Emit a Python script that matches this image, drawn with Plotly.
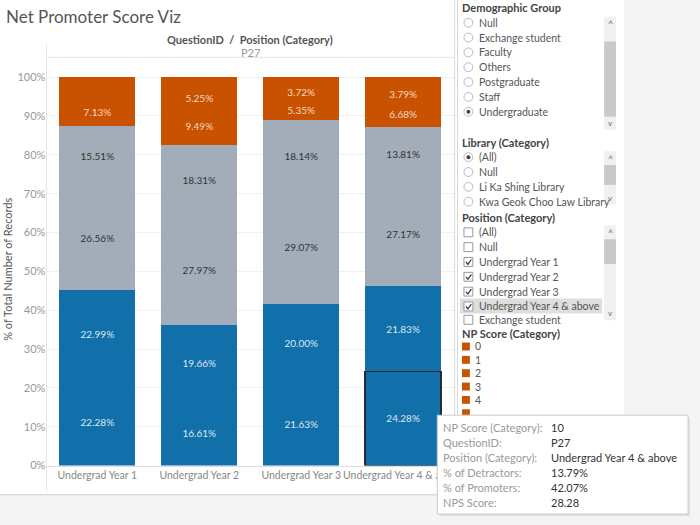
import plotly.graph_objects as go

W, H = 700, 525

# ---------------- data ----------------
positions = ["Undergrad Year 1", "Undergrad Year 2", "Undergrad Year 3", "Undergrad Year 4 & above"]
np_scores = ["10", "9", "8", "7", "6", "5", "4", "3", "2", "1", "0"]  # bottom -> top
score_10 = [22.28, 16.61, 21.63, 24.28]
score_9 = [22.99, 19.66, 20.00, 21.83]
score_8 = [26.56, 27.97, 29.07, 27.17]
score_7 = [15.51, 18.31, 18.14, 13.81]
score_6 = [7.13, 9.49, 5.35, 6.68]
score_5 = [2.05, 5.25, 3.72, 3.79]
score_4 = [1.12, 0.98, 0.81, 0.93]
score_3 = [0.84, 0.62, 0.47, 0.55]
score_2 = [0.45, 0.35, 0.28, 0.31]
score_1 = [0.31, 0.24, 0.19, 0.22]
score_0 = [0.76, 0.52, 0.34, 0.43]
series = [score_10, score_9, score_8, score_7, score_6, score_5,
          score_4, score_3, score_2, score_1, score_0]
y_ticks = [0, 10, 20, 30, 40, 50, 60, 70, 80, 90, 100]
y_ticklabels = [f"{v}%" for v in y_ticks]

demographic_items = ["Null", "Exchange student", "Faculty", "Others", "Postgraduate", "Staff", "Undergraduate"]
library_items = ["(All)", "Null", "Li Ka Shing Library", "Kwa Geok Choo Law Library"]
position_items = ["(All)", "Null", "Undergrad Year 1", "Undergrad Year 2", "Undergrad Year 3",
                  "Undergrad Year 4 & above", "Exchange student"]
legend_scores = ["0", "1", "2", "3", "4"]
tooltip_rows = [("NP Score (Category):", "10"), ("QuestionID:", "P27"),
                ("Position (Category):", "Undergrad Year 4 & above"),
                ("% of Detractors:", "13.79%"), ("% of Promoters:", "42.07%"),
                ("NPS Score:", "28.28")]

# ---------------- styles ----------------
BLUE, GREY, ORANGE = "#1170AA", "#A3ACB9", "#C85200"
FONT = "Lato"


def group_color(score):
    s = int(score)
    if s >= 9:
        return BLUE, "#dde7f0"
    if s >= 7:
        return GREY, "#333333"
    return ORANGE, "#f6d7c2"


def px(x):
    return x / W


def py(y):
    return 1 - y / H


fig = go.Figure()
for score, vals in zip(np_scores, series):
    col, tcol = group_color(score)
    lw = [0, 0, 0, 0]
    if score == "10":
        lw = [0, 0, 0, 1.3]
    fig.add_trace(go.Bar(
        x=positions, y=vals, name=score,
        marker=dict(color=col, line=dict(color="#2b2b2b", width=lw)),
        text=[f"{v:.2f}%" if v >= 3 else "" for v in vals],
        textposition="inside", insidetextanchor="middle", textangle=0,
        constraintext="none",
        textfont=dict(family=FONT, size=10, color=tcol),
        showlegend=False, hoverinfo="skip",
    ))

x0, x1 = 47, 460
ytop, ybot = 58, 471
ymax = 100 * (ybot - ytop) / (ybot - 78)

fig.update_layout(
    autosize=True, barmode="stack", bargap=0.254,
    margin=dict(l=0, r=0, t=0, b=0),
    paper_bgcolor="#f4f4f4", plot_bgcolor="white",
    font=dict(family=FONT, color="#555"),
    xaxis=dict(domain=[px(x0), px(x1)], showline=True, linecolor="#dcdcdc",
               tickfont=dict(size=10.5, color="#888"), ticks="", showgrid=False,
               tickangle=0, fixedrange=True),
    yaxis=dict(domain=[py(ybot), py(ytop)], range=[0, ymax], tickvals=y_ticks,
               ticktext=y_ticklabels, tickfont=dict(size=11, color="#999"),
               showgrid=True, gridcolor="#f1f1f1", zeroline=False, ticks="",
               showline=False),
)

shapes = []
ann = []

# backgrounds
shapes.append(dict(type="rect", xref="paper", yref="paper", x0=0, x1=px(632), y0=py(500), y1=1,
                   fillcolor="white", line=dict(width=0), layer="below"))
shapes.append(dict(type="line", xref="paper", yref="paper", x0=0, x1=px(632), y0=py(500.5), y1=py(500.5),
                   line=dict(color="#cfcfcf", width=1)))
# chart frame lines
shapes.append(dict(type="line", xref="paper", yref="paper", x0=px(47), x1=px(47), y0=py(497), y1=py(45),
                   line=dict(color="#e4e4e4", width=1)))
shapes.append(dict(type="line", xref="paper", yref="paper", x0=px(47), x1=px(460), y0=py(58), y1=py(58),
                   line=dict(color="#e4e4e4", width=1)))

ann.append(dict(text="Net Promoter Score Viz", x=px(4), y=py(17), xanchor="left", yanchor="middle",
                font=dict(size=17, color="#555", family=FONT)))
ann.append(dict(text="<b>QuestionID  /  Position (Category)</b>", x=px(253.5), y=py(40), xanchor="center",
                yanchor="middle", font=dict(size=11, color="#555", family=FONT)))
ann.append(dict(text="P27", x=px(253.5), y=py(53), xanchor="center", yanchor="middle",
                font=dict(size=11, color="#999", family=FONT)))
ann.append(dict(text="% of Total Number of Records", x=px(8), y=py(272), xanchor="center", yanchor="middle",
                textangle=-90, font=dict(size=11, color="#555", family=FONT)))

# filter panel
shapes.append(dict(type="rect", xref="paper", yref="paper", x0=px(460), x1=px(632), y0=py(500), y1=1,
                   fillcolor="white", line=dict(width=0), layer="above"))
for lx in (460.5, 463.5):
    shapes.append(dict(type="line", xref="paper", yref="paper", x0=px(lx), x1=px(lx), y0=py(500), y1=1,
                       line=dict(color="#d8d8d8", width=1), layer="above"))

ITEM_SIZE = 10.5


def header(text, y):
    ann.append(dict(text=f"<b>{text}</b>", x=px(466), y=py(y), xanchor="left", yanchor="middle",
                    font=dict(size=11, color="#444", family=FONT)))


def item(text, y, x=483):
    ann.append(dict(text=text, x=px(x), y=py(y), xanchor="left", yanchor="middle",
                    font=dict(size=ITEM_SIZE, color="#555", family=FONT)))


def radio(y, selected=False):
    shapes.append(dict(type="circle", xref="paper", yref="paper", x0=px(470), x1=px(479),
                       y0=py(y + 4.5), y1=py(y - 4.5), line=dict(color="#bbbbbb", width=1),
                       fillcolor="white", layer="above"))
    if selected:
        shapes.append(dict(type="circle", xref="paper", yref="paper", x0=px(472.5), x1=px(476.5),
                           y0=py(y + 2), y1=py(y - 2), line=dict(width=0),
                           fillcolor="#444", layer="above"))


def checkbox(y, checked=False):
    shapes.append(dict(type="rect", xref="paper", yref="paper", x0=px(470), x1=px(479),
                       y0=py(y + 4.5), y1=py(y - 4.5), line=dict(color="#999", width=1),
                       fillcolor="white", layer="above"))
    if checked:
        path = f"M {px(472)} {py(y)} L {px(474)} {py(y + 2.5)} L {px(477.5)} {py(y - 2.5)}"
        shapes.append(dict(type="path", xref="paper", yref="paper", path=path,
                           line=dict(color="#333", width=1.2), layer="above"))


def scrollbar(y0, y1, t0, t1):
    shapes.append(dict(type="rect", xref="paper", yref="paper", x0=px(612), x1=px(624), y0=py(y1), y1=py(y0),
                       fillcolor="#f0f0f0", line=dict(width=0), layer="above"))
    shapes.append(dict(type="rect", xref="paper", yref="paper", x0=px(612), x1=px(624), y0=py(t1), y1=py(t0),
                       fillcolor="#c9c9c9", line=dict(width=0), layer="above"))
    ann.append(dict(text="^", x=px(618), y=py(y0 + 7), xanchor="center", yanchor="middle",
                    font=dict(size=9, color="#666", family=FONT)))
    ann.append(dict(text="v", x=px(618), y=py(y1 - 7), xanchor="center", yanchor="middle",
                    font=dict(size=8, color="#666", family=FONT)))


# Demographic Group
header("Demographic Group", 8)
for i, t in enumerate(demographic_items):
    yy = 23 + 15 * i
    radio(yy, selected=(t == "Undergraduate"))
    item(t, yy)
scrollbar(17, 131, 42, 118)

# Library
header("Library (Category)", 144)
for i, t in enumerate(library_items):
    yy = 159 + 15 * i
    radio(yy, selected=(t == "(All)"))
    item(t, yy)
scrollbar(153, 207, 167, 187)

# Position
header("Position (Category)", 220)
shapes.append(dict(type="rect", xref="paper", yref="paper", x0=px(466), x1=px(610), y0=py(317), y1=py(302),
                   fillcolor="#dedede", line=dict(width=0), layer="above"))
for i, t in enumerate(position_items):
    yy = 235 + 15 * i
    if t == "Exchange student":
        yy -= 1.5
    checkbox(yy, checked=t.startswith("Undergrad"))
    item(t, yy)
scrollbar(228, 324, 242, 267)

# NP Score legend
header("NP Score (Category)", 337.5)
for i, t in enumerate(legend_scores):
    yy = 350.5 + 13.5 * i
    shapes.append(dict(type="rect", xref="paper", yref="paper", x0=px(468), x1=px(476), y0=py(yy + 4),
                       y1=py(yy - 4), fillcolor=ORANGE, line=dict(width=0), layer="above"))
    item(t, yy, x=479)
shapes.append(dict(type="rect", xref="paper", yref="paper", x0=px(468), x1=px(476), y0=py(421),
                   y1=py(414), fillcolor=ORANGE, line=dict(width=0), layer="above"))

# tooltip
shapes.append(dict(type="rect", xref="paper", yref="paper", x0=px(445), x1=px(699), y0=py(522), y1=py(422),
                   fillcolor="rgba(0,0,0,0.08)", line=dict(width=0), layer="above"))
shapes.append(dict(type="rect", xref="paper", yref="paper", x0=px(443), x1=px(697), y0=py(520), y1=py(420),
                   fillcolor="white", line=dict(color="#cccccc", width=1), layer="above"))
for i, (lab, val) in enumerate(tooltip_rows):
    yy = 432 + 15.2 * i
    ann.append(dict(text=lab, x=px(447), y=py(yy), xanchor="left", yanchor="middle",
                    font=dict(size=11, color="#999", family=FONT)))
    ann.append(dict(text=val, x=px(556), y=py(yy), xanchor="left", yanchor="middle",
                    font=dict(size=11, color="#333", family=FONT)))

for a in ann:
    a.update(xref="paper", yref="paper", showarrow=False)

fig.update_layout(shapes=shapes, annotations=ann)
fig.write_html(
    "out.html",
    config={"responsive": True, "displayModeBar": False},
    default_width="100vw", default_height="100vh",
    post_script=(
        "var h=document.documentElement;h.style.margin='0';h.style.padding='0';h.style.overflow='hidden';"
        "document.body.style.margin='0';document.body.style.padding='0';document.body.style.overflow='hidden';"
        "var gd=document.getElementById('{plot_id}');gd.style.width='100vw';gd.style.height='100vh';"
        "Plotly.Plots.resize(gd);"
    ),
)
